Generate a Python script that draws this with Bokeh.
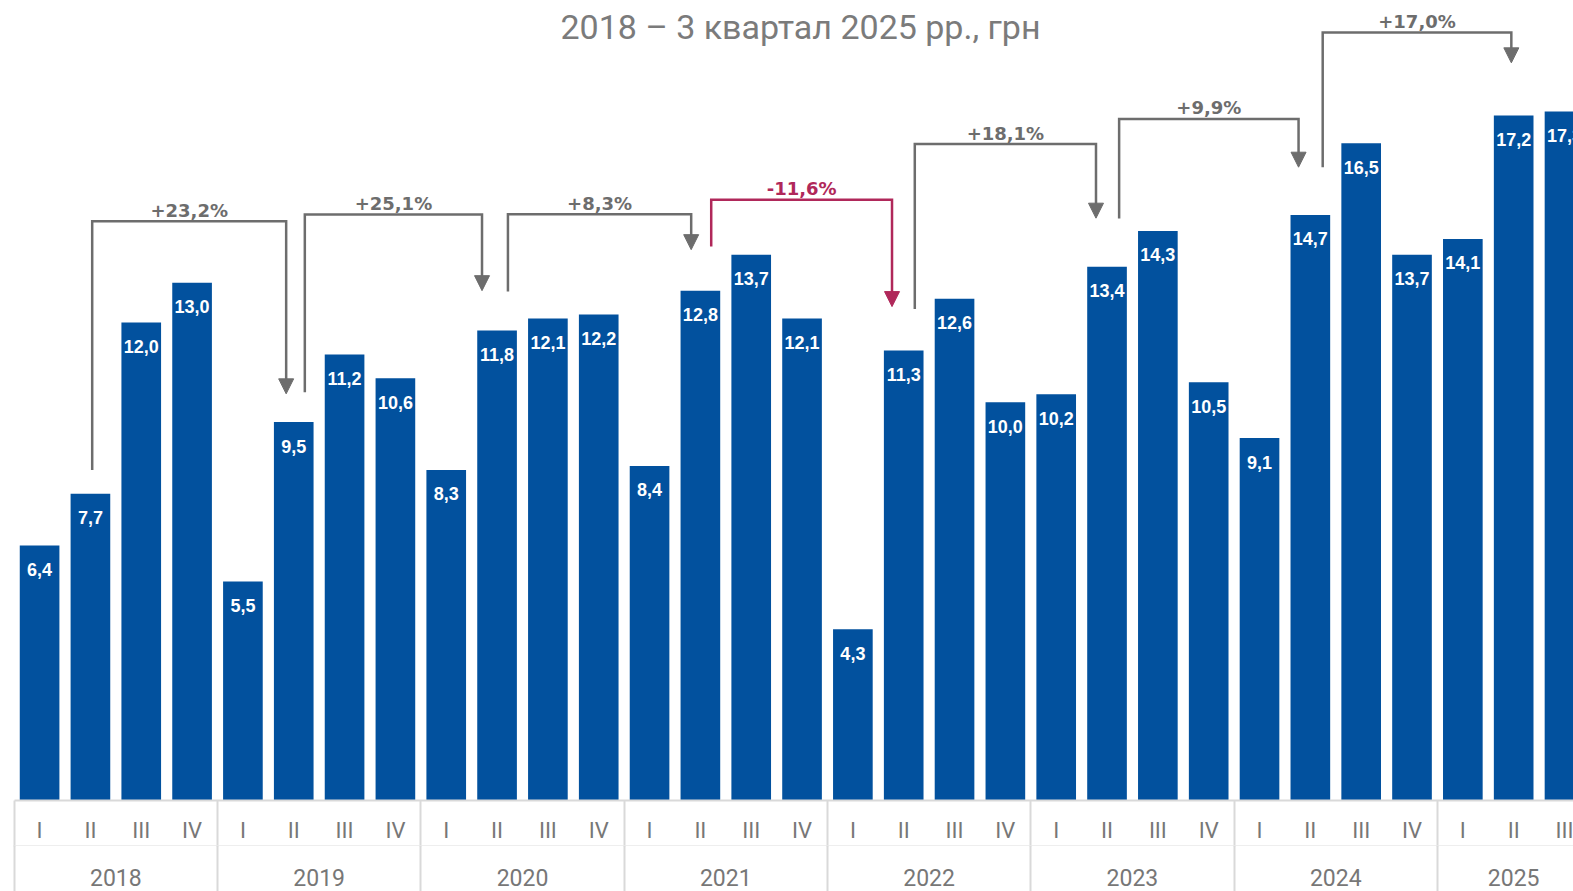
from bokeh.plotting import figure
from bokeh.models import Range1d, FixedTicker, LinearAxis, Arrow, NormalHead, Label, ColumnDataSource
from bokeh.core.properties import value
from bokeh.embed import file_html
from bokeh.resources import INLINE

# ---------------- data ----------------
years = ["2018", "2019", "2020", "2021", "2022", "2023", "2024", "2025"]
quarters = ["I", "II", "III", "IV"]
values = [6.4, 7.7, 12.0, 13.0,
          5.5, 9.5, 11.2, 10.6,
          8.3, 11.8, 12.1, 12.2,
          8.4, 12.8, 13.7, 12.1,
          4.3, 11.3, 12.6, 10.0,
          10.2, 13.4, 14.3, 10.5,
          9.1, 14.7, 16.5, 13.7,
          14.1, 17.2, 17.3]
change_labels = ["+23,2%", "+25,1%", "+8,3%", "-11,6%", "+18,1%", "+9,9%", "+17,0%"]
change_from = [1, 5, 9, 13, 17, 21, 25]
change_to = [5, 9, 13, 17, 21, 25, 29]
title_text = "2018 – 3 квартал 2025 рр., грн"

# ---------------- layout (annotation geometry) ----------------
start_dx = [0.035, 0.218, 0.214, 0.213, 0.218, 0.238, 0.243]
end_dx = [-0.149, -0.296, -0.181, -0.230, -0.217, -0.232, -0.046]
bottom_y = [8.30, 10.25, 12.78, 13.91, 12.34, 14.61, 15.90]
top_y = [14.54, 14.71, 14.72, 15.08, 16.48, 17.11, 19.28]
tip_y = [10.21, 12.80, 13.83, 12.40, 14.62, 15.90, 18.52]

BAR = "#02519E"
GRAY = "#6d6d6d"
RED = "#B0285A"
AXIS = "#d9d9d9"
LABEL = "#777777"

n = len(values)
idx = list(range(n))
quarter_of = [quarters[i % 4] for i in idx]
year_of = [years[i // 4] for i in idx]
year_centers = []
for y in years:
    members = [i for i in idx if year_of[i] == y]
    year_centers.append(sum(members) / len(members))
separators = [-0.5 + 4 * k for k in range(len(years))]

X0, X1 = -0.769, 30.177
Y1 = 20.085

p = figure(width=1573, height=891,
           x_range=Range1d(X0, X1), y_range=Range1d(0, Y1),
           output_backend="svg", toolbar_location=None,
           x_axis_location=None, y_axis_location=None,
           min_border_left=0, min_border_right=0, min_border_top=0,
           min_border_bottom=91)
p.outline_line_color = None
p.xgrid.visible = False
p.ygrid.visible = False
p.background_fill_color = "white"
p.border_fill_color = "white"

src = ColumnDataSource(dict(
    x=idx, v=values,
    lab=[f"{v:.1f}".replace(".", ",") for v in values],
))
p.vbar(x="x", top="v", width=0.78, source=src, fill_color=BAR, line_color=None)
p.text(x="x", y="v", text="lab", source=src, text_align="center",
       text_baseline="middle", y_offset=24, text_color="white",
       text_font=value("Liberation Sans"), text_font_style="bold",
       text_font_size="18px")

# brackets
xs, ys, cols, mids, tops = [], [], [], [], []
for k in range(len(change_labels)):
    sx = change_from[k] + start_dx[k]
    ex = change_to[k] + end_dx[k]
    col = RED if change_labels[k].startswith("-") else GRAY
    xs.append([sx, sx, ex, ex])
    ys.append([bottom_y[k], top_y[k], top_y[k], tip_y[k] + 0.25])
    cols.append(col)
    mids.append((sx + ex) / 2)
    tops.append(top_y[k])
    p.add_layout(Arrow(end=NormalHead(size=15, fill_color=col, line_color=col, line_width=1),
                       x_start=ex, y_start=tip_y[k] + 0.5, x_end=ex, y_end=tip_y[k],
                       line_alpha=0))
p.multi_line(xs=xs, ys=ys, line_color=cols, line_width=2.5, line_join="miter")
p.text(x=mids, y=tops, text=change_labels, text_align="center", text_baseline="middle",
       y_offset=-11, text_color=cols, text_font=value("DejaVu Sans"),
       text_font_style="bold", text_font_size="18px")

# title
p.add_layout(Label(x=14.97, y=19.43, text=title_text, text_align="center",
                   text_baseline="middle", text_color="#7b7b7b",
                   text_font="Roboto", text_font_size="34px"))

# axes
qaxis = LinearAxis(ticker=FixedTicker(ticks=idx, minor_ticks=separators),
                   major_label_overrides={float(i): quarter_of[i] for i in idx},
                   bounds=(-0.5, 30.6))
yaxis = LinearAxis(ticker=FixedTicker(ticks=year_centers, minor_ticks=separators),
                   major_label_overrides={float(c): y for c, y in zip(year_centers, years)},
                   bounds=(-0.5, 30.6))
for ax, standoff, mto, lc, lw in ((qaxis, -29, 46, AXIS, 2), (yaxis, -23, 46, "#eeeeee", 1)):
    ax.axis_line_color = lc
    ax.axis_line_width = lw
    ax.major_tick_out = 0
    ax.major_tick_in = 0
    ax.minor_tick_in = 0
    ax.minor_tick_out = mto
    ax.minor_tick_line_color = AXIS
    ax.minor_tick_line_width = 2
    ax.major_label_standoff = standoff
    ax.major_label_text_font = "Roboto"
    ax.major_label_text_font_size = "22px"
    ax.major_label_text_color = LABEL
yaxis.major_label_text_font_size = "23px"
yaxis.major_label_text_line_height = 0.7
p.add_layout(qaxis, "below")
p.add_layout(yaxis, "below")

open("out.html", "w").write(file_html(p, INLINE))
